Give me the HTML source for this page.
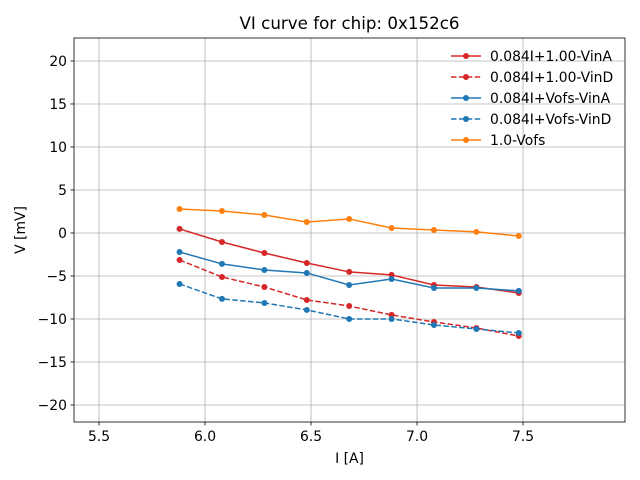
<!DOCTYPE html>
<html><head><meta charset="utf-8"><style>
body{margin:0;background:#fff;font-family:"DejaVu Sans","Liberation Sans",sans-serif;}
svg{display:block}
</style></head><body>
<svg id="chart" width="640" height="480" xmlns="http://www.w3.org/2000/svg" font-family="DejaVu Sans, Liberation Sans, sans-serif"></svg>
<script>
const xs = [5.88, 6.08, 6.28, 6.48, 6.68, 6.88, 7.08, 7.28, 7.48];
const redSolid = [0.47, -1.05, -2.33, -3.49, -4.53, -4.88, -6.05, -6.28, -6.98];
const redDashed = [-3.14, -5.12, -6.28, -7.79, -8.49, -9.53, -10.35, -11.05, -11.98];
const blueSolid = [-2.21, -3.6, -4.3, -4.65, -6.05, -5.35, -6.4, -6.4, -6.74];
const blueDashed = [-5.93, -7.67, -8.14, -8.95, -10.0, -10.0, -10.7, -11.16, -11.63];
const orange = [2.79, 2.56, 2.09, 1.28, 1.63, 0.58, 0.35, 0.12, -0.35];
const xTicks = [5.5, 6.0, 6.5, 7.0, 7.5];
const yTicks = [20, 15, 10, 5, 0, -5, -10, -15, -20];
const seriesNames = ["0.084I+1.00-VinA", "0.084I+1.00-VinD", "0.084I+Vofs-VinA", "0.084I+Vofs-VinD", "1.0-Vofs"];

const L=74,R=625,T=38,B=422;
const xMin=5.382,xMax=7.981,yMin=-21.98,yMax=22.67;
const sx=v=>L+(v-xMin)/(xMax-xMin)*(R-L);
const sy=v=>B-(v-yMin)/(yMax-yMin)*(B-T);
const svg=document.getElementById('chart');
const NS="http://www.w3.org/2000/svg";
function mk(tag,attrs,parent){const e=document.createElementNS(NS,tag);for(const k in attrs)e.setAttribute(k,attrs[k]);(parent||svg).appendChild(e);return e;}

xTicks.forEach(t=>{const x=sx(t);
 const g=mk('line',{x1:x,x2:x,y1:T,y2:B,stroke:'#b0b0b0','stroke-width':0.8});
 
 
 mk('line',{x1:x,x2:x,y1:B,y2:B+3.5,stroke:'#000','stroke-width':0.8});
 const tx=mk('text',{x:x,y:B+19,'text-anchor':'middle','font-size':13.9,fill:'#000'});tx.textContent=t.toFixed(1);
 
 
});
yTicks.forEach(t=>{const y=sy(t);
 const g=mk('line',{x1:L,x2:R,y1:y,y2:y,stroke:'#b0b0b0','stroke-width':0.8});
 
 
 mk('line',{x1:L-3.5,x2:L,y1:y,y2:y,stroke:'#000','stroke-width':0.8});
 const tx=mk('text',{x:L-7,y:y+5,'text-anchor':'end','font-size':13.9,fill:'#000'});tx.textContent=(t<0?'\u2212'+(-t):t);
 
 
});

const series=[
 {d:redSolid,c:'#d62728',dash:null,n:'series-red-solid'},
 {d:redDashed,c:'#d62728',dash:'5.5,2.4',n:'series-red-dashed'},
 {d:blueSolid,c:'#1f77b4',dash:null,n:'series-blue-solid'},
 {d:blueDashed,c:'#1f77b4',dash:'5.5,2.4',n:'series-blue-dashed'},
 {d:orange,c:'#ff7f0e',dash:null,n:'series-orange'}];
series.forEach(s=>{
 const g=mk('g',{});
 
 
 const pts=xs.map((x,i)=>sx(x)+','+sy(s.d[i])).join(' ');
 const a={points:pts,fill:'none',stroke:s.c,'stroke-width':1.5};if(s.dash)a['stroke-dasharray']=s.dash;
 mk('polyline',a,g);
 xs.forEach((x,i)=>{const c=mk('circle',{cx:sx(x),cy:sy(s.d[i]),r:3,fill:s.c},g);
  
  });
});

const fr=mk('rect',{x:L,y:T,width:R-L,height:B-T,fill:'none',stroke:'#000','stroke-width':0.8});



const tt=mk('text',{x:(L+R)/2,y:29,'text-anchor':'middle','font-size':16.7,fill:'#000'});tt.textContent='VI curve for chip: 0x152c6';


const xl=mk('text',{x:(L+R)/2,y:463,'text-anchor':'middle','font-size':13.9,fill:'#000'});xl.textContent='I [A]';


const yl=mk('text',{x:0,y:0,'text-anchor':'middle','font-size':13.9,fill:'#000',transform:'translate(25,230) rotate(-90)'});yl.textContent='V [mV]';



series.forEach((s,i)=>{
 const y=56+i*21;
 const g=mk('g',{});
 
 
 const a={x1:451,x2:481,y1:y,y2:y,stroke:s.c,'stroke-width':1.5};if(s.dash)a['stroke-dasharray']=s.dash;
 mk('line',a,g);
 mk('circle',{cx:466,cy:y,r:3,fill:s.c},g);
 const t=mk('text',{x:490,y:y+5,'font-size':13.9,fill:'#000'},g);t.textContent=seriesNames[i];
});
</script>
</body></html>
